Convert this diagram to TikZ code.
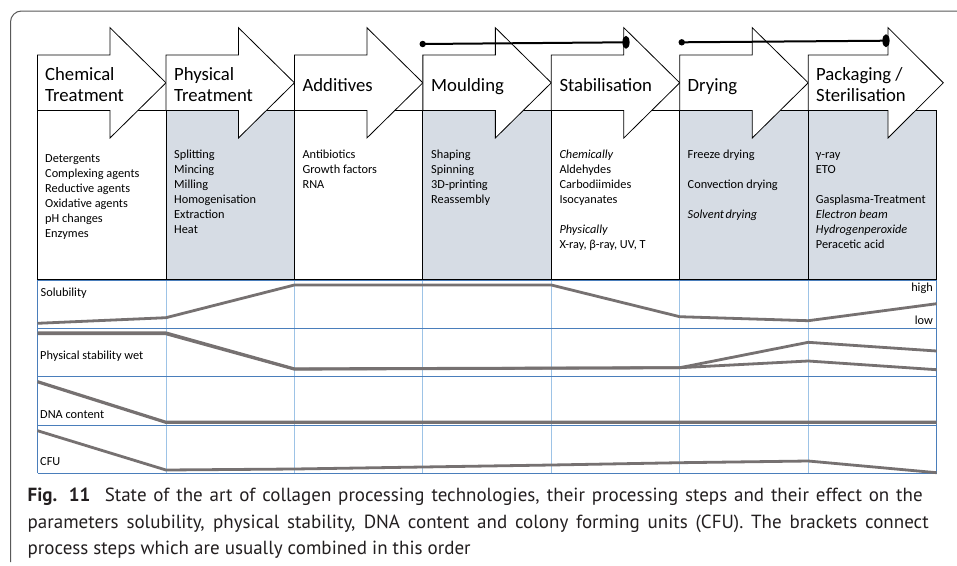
\documentclass[tikz,border=0pt]{standalone}
\usepackage{fontspec}
\setmainfont{Carlito}
\newfontfamily\capfont{PT Sans}
\definecolor{greyfill}{HTML}{D6DCE4}
\definecolor{gridblue}{HTML}{4A7EBB}
\definecolor{gridlight}{HTML}{9DC3E6}
\definecolor{curvegray}{HTML}{767171}
\definecolor{framegray}{HTML}{595959}
\definecolor{captext}{HTML}{231F20}
\begin{document}
\begin{tikzpicture}[x=1pt,y=-1pt,
  arrowshape/.style={fill=white,draw=black,line width=0.8pt,line join=miter},
  headtext/.style={anchor=base west,inner sep=0pt,font=\fontsize{18.7}{22}\selectfont},
  item/.style={anchor=base west,inner sep=0pt,font=\fontsize{12.3}{15}\selectfont},
  rowlabel/.style={anchor=base west,inner sep=0pt,font=\fontsize{12.3}{15}\selectfont},
  curve/.style={draw=curvegray,line width=2.8pt,line join=round},
  hgrid/.style={draw=gridblue,line width=0.9pt},
  vgrid/.style={draw=gridlight,line width=0.9pt},
  colbox/.style={draw=black,line width=0.8pt},
  bracket/.style={draw=black,line width=2pt},
  captxt/.style={anchor=base west,inner sep=0pt,text=captext,font=\capfont\fontsize{19}{26}\selectfont}]
\useasboundingbox (0,0) rectangle (957,565);
\fill[white] (0,0) rectangle (957,565);
% frame
\draw[framegray,line width=1pt] (10.5,562) -- (10.5,22) arc[start angle=180,end angle=270,radius=11] -- (957,11);
% grey columns
\foreach \L in {165.95,422.85,679.75,808.2}
  \fill[greyfill] (\L,110.5) rectangle ++(128.45,168.5);
% column boxes
\foreach \L in {37.5,165.95,294.4,422.85,551.3,679.75,808.2}
  \draw[colbox] (\L,110.5) rectangle ++(128.45,168.5);
% arrows
\foreach \L in {37.5,165.95,294.4,422.85,551.3,679.75}
  \draw[arrowshape] (\L,55) -- ({\L+72.5},55) -- ({\L+72.5},27.7) -- ({\L+128.45},82.8)
     -- ({\L+72.5},138) -- ({\L+72.5},110.5) -- (\L,110.5) -- cycle;
\draw[arrowshape] (808.2,55) -- (888,55) -- (888,27.7) -- (943.3,82.8)
     -- (888,138) -- (888,110.5) -- (808.2,110.5) -- cycle;
% brackets
\coordinate (b1s) at (422.7,44);
\coordinate (b1e) at (626,42.3);
\coordinate (b2s) at (681.7,42.3);
\coordinate (b2e) at (886,40.7);
\draw[bracket] (b1s) -- (b1e);
\draw[bracket] (b2s) -- (b2e);
\fill (b1s) circle (3.2);
\fill (b2s) circle (3.2);
\fill (b1e) ellipse (3.6 and 6.5);
\fill (b2e) ellipse (3.6 and 6.5);
% headings
\node[headtext] (h1a) at (45,80) {Chemical};
\node[headtext] (h1b) at (45,101.7) {Treatment};
\node[headtext] (h2a) at (174,80) {Physical};
\node[headtext] (h2b) at (174,101.7) {Treatment};
\node[headtext] (h3) at (302.4,91) {Additives};
\node[headtext] (h4) at (431,91) {Moulding};
\node[headtext] (h5) at (559.3,91) {Stabilisation};
\node[headtext] (h6) at (687.5,91) {Drying};
\node[headtext] (h7a) at (816,80) {Packaging /};
\node[headtext] (h7b) at (816,101.7) {Sterilisation};
% column items
\foreach \y/\t [count=\k] in {162.5/Detergents,177.5/Complexing agents,192.5/Reductive agents,207.5/Oxidative agents,222.5/pH changes,237.5/Enzymes}
  \node[item] (ca\k) at (45,\y) {\t};
\foreach \y/\t [count=\k] in {158/Splitting,173/Mincing,188/Milling,203/Homogenisation,218/Extraction,233/Heat}
  \node[item] (cb\k) at (174,\y) {\t};
\foreach \y/\t [count=\k] in {158/Antibiotics,173/Growth factors,188/RNA}
  \node[item] (cc\k) at (302.4,\y) {\t};
\foreach \y/\t [count=\k] in {158/Shaping,173/Spinning,188/3D-printing,203/Reassembly}
  \node[item] (cd\k) at (431,\y) {\t};
\foreach \y/\t [count=\k] in {158/\textit{Chemically},173/Aldehydes,188/Carbodiimides,203/Isocyanates,233/\textit{Physically},248/{X-ray, β-ray, UV, T}}
  \node[item] (ce\k) at (559.3,\y) {\t};
\foreach \y/\t [count=\k] in {158/Freeze drying,188/Convection drying,218/\textit{Solvent\hspace{1.5pt}drying}}
  \node[item] (cf\k) at (687.5,\y) {\t};
\foreach \y/\t [count=\k] in {158/γ-ray,173/ETO,203/Gasplasma-Treatment,218/\textit{Electron beam},233/\textit{Hydrogenperoxide},248/Peracetic acid}
  \node[item] (cg\k) at (815.7,\y) {\t};
% graph grid
\foreach \L in {165.95,294.4,422.85,551.3,679.75,808.2}
  \draw[vgrid] (\L,280) -- (\L,473.3);
\foreach \y in {280,328.3,376.7,425,473.3}
  \draw[hgrid] (37.5,\y) -- (936.65,\y);
\draw[hgrid] (37.5,280) -- (37.5,473.3);
\draw[hgrid] (936.65,280) -- (936.65,473.3);
% curves
\draw[curve] (37.5,323.3) -- (165.95,317.7) -- (294.4,285) -- (551.3,285) -- (679.75,316.7) -- (808.2,320.7) -- (936.65,303.7);
\draw[curve] (37.5,332.8) -- (165.95,332.8) -- (294.4,368.8) -- (679.75,367.7) -- (808.2,342.3) -- (936.65,351);
\draw[curve] (37.5,333.8) -- (165.95,333.8) -- (294.4,369.2) -- (679.75,367.7) -- (808.2,361) -- (936.65,369.7);
\draw[curve,line width=3.2pt] (37.5,381.7) -- (165.95,422.3) -- (936.65,422.3);
\draw[curve] (37.5,430.7) -- (165.95,470) -- (294.4,469) -- (551.3,465) -- (679.75,462.7) -- (808.2,461) -- (936.65,472.7);
% row labels
\node[rowlabel] (rsol) at (40.5,296.5) {Solubility};
\node[rowlabel] (rphy) at (40,359) {Physical stability wet};
\node[rowlabel] (rdna) at (40,418) {DNA content};
\node[rowlabel] (rcfu) at (40,465) {CFU};
\node[rowlabel,anchor=base east] (rhigh) at (933,291) {high};
\node[rowlabel,anchor=base east] (rlow) at (933,324) {low};
% caption
\node[captxt] (cap1) at (27.5,501.5) {\makebox[895pt][s]{\textbf{Fig. 11}\hspace{0.4em} State of the art of collagen processing technologies, their processing steps and their effect on the}};
\node[captxt] (cap2) at (27.5,528) {\makebox[901pt][s]{parameters solubility, physical stability, DNA content and colony forming units (CFU). The brackets connect}};
\node[captxt] (cap3) at (27.5,554.5) {process steps which are usually combined in this order};
\end{tikzpicture}
\end{document}
